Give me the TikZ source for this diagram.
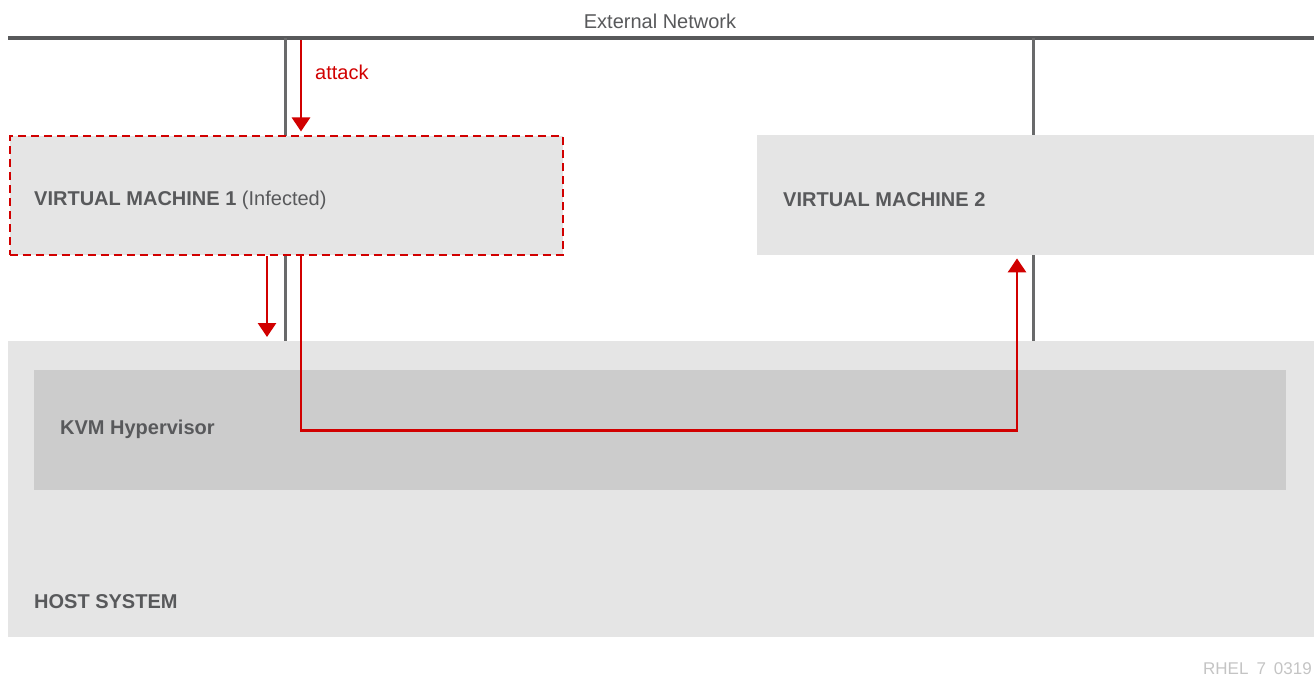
\documentclass[tikz,border=0pt]{standalone}
\usepackage{fontspec}
\setmainfont{Liberation Sans}
\usetikzlibrary{arrows.meta,positioning}
\definecolor{rhgray}{HTML}{58595B}
\definecolor{rhred}{HTML}{D10000}
\definecolor{boxgray}{HTML}{E5E5E5}
\definecolor{kvmgray}{HTML}{CCCCCC}
\definecolor{notegray}{HTML}{C4C4C4}

\begin{document}
\begin{tikzpicture}[x=1pt,y=-1pt,
	box/.style={fill=boxgray,inner sep=0pt,anchor=north west},
	lbl/.style={anchor=west,inner sep=0pt,text=rhgray,font=\fontsize{20}{24}\selectfont},
	link/.style={draw=rhgray!90,line width=3pt},
	hit/.style={draw=rhred,line width=2.8pt,-{Triangle[width=18pt,length=14pt]}}]
	\useasboundingbox (0,0) rectangle (1314,676);
	% network and links
	\draw[rhgray,line width=4.5pt] (8,38) -- (1314,38);
	\node[lbl,anchor=center] (net) at (660,21) {External Network};
	\draw[link] (285,38) -- (285,341);
	\draw[link] (1033,38) -- (1033,341);
	% host and hypervisor
	\node[box,minimum width=1306,minimum height=296] (host) at (8,341) {};
	\node[box,fill=kvmgray,minimum width=1252,minimum height=120] (kvm) at (34,370) {};
	\node[lbl,font=\fontsize{20}{24}\selectfont\bfseries] (kvmtxt) at (60,429) {KVM Hypervisor};
	\node[lbl,font=\fontsize{20}{24}\selectfont\bfseries] (hosttxt) at (34,602) {HOST SYSTEM};
	% guests
	\node[box,draw=rhred,line width=2pt,dash pattern=on 8pt off 5pt,minimum width=553,minimum height=119] (vmone) at (8.5,135.5) {};
	\node[lbl] (vmonetxt) at (34,200) {\textbf{VIRTUAL MACHINE 1} (Infected)};
	\node[box,minimum width=557,minimum height=120] (vmtwo) at (757,135) {};
	\node[lbl,font=\fontsize{20}{24}\selectfont\bfseries] (vmtwotxt) at (783,200) {VIRTUAL MACHINE 2};
	% attack path
	\coordinate (atk) at (301,40);
	\coordinate (leak) at (267,0);
	\coordinate (cross) at (1017,0);
	\draw[hit,shorten >=4pt] (atk) -- (atk |- vmone.north);
	\node[lbl,text=rhred] (atktxt) at (315,72) {attack};
	\draw[hit,shorten >=4pt] (leak |- vmone.south) -- (leak |- host.north);
	\draw[hit,shorten >=3pt] (atk |- vmone.south) |- (kvm.center -| cross) -- (cross |- vmtwo.south);
	\node[lbl,anchor=east,text=notegray,font=\fontsize{17}{20}\selectfont] (note) at (1312,669) {RHEL\hspace{8pt}7\hspace{8pt}0319};
\end{tikzpicture}
\end{document}
